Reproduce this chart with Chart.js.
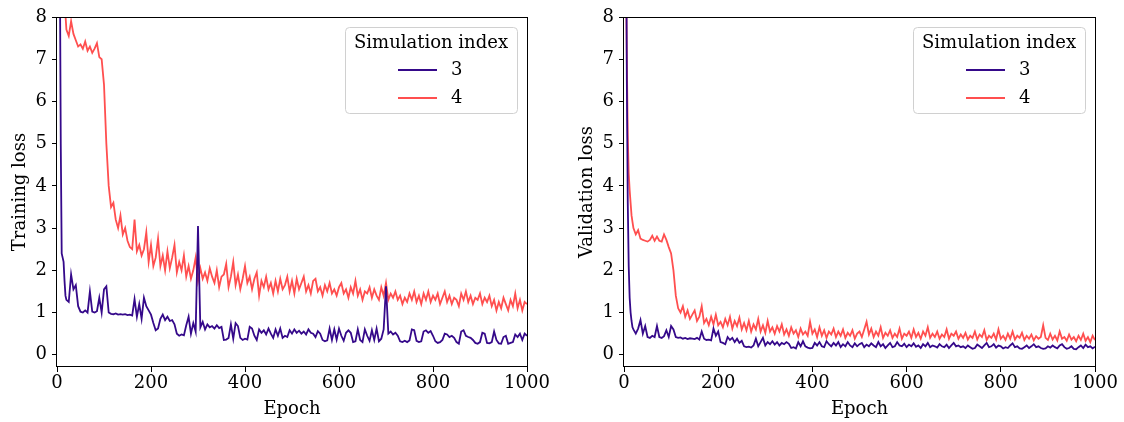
<!DOCTYPE html>
<html>
<head>
<meta charset="utf-8">
<script src="https://cdn.jsdelivr.net/npm/chart.js@4.4.1/dist/chart.umd.min.js"></script>
<style>
  html, body { margin: 0; padding: 0; background: #fff; }
  .panel { position: absolute; top: 0; width: 562px; height: 422px; }
</style>
</head>
<body>
<div class="panel" style="left:0"><canvas id="trainChart" width="562" height="422"></canvas></div>
<div class="panel" style="left:562px"><canvas id="valChart" width="562" height="422"></canvas></div>
<script>
// epoch grid: fine steps at the start, then every 5 epochs
const headEpochs = [0, 2, 4, 6, 8, 10, 12, 14, 16, 18];
const epochs = headEpochs.concat(Array.from({ length: 197 }, (_, i) => 20 + 5 * i));

const seriesLabels = ["3", "4"];
const seriesColors = ["#35098a", "#ff4f4f"];
const xTicks = [0, 200, 400, 600, 800, 1000];
const yTicks = [0, 1, 2, 3, 4, 5, 6, 7, 8];

// training loss, simulation 3
const trainLoss3 = [
  30, 18, 12, 9.5, 5.0, 2.4, 2.3, 2.2, 1.75, 1.4,
  1.3, 1.25, 1.9, 1.55, 1.65, 1.15, 1.02, 1.0, 1.05, 1.0, 1.5, 1.02, 1.0, 1.03, 1.35, 1.0, 1.55, 1.62, 1.0, 0.97,
  0.96, 0.98, 0.95, 0.96, 0.95, 0.96, 0.94, 0.95, 0.93, 1.32, 0.9, 1.2, 0.85, 1.35, 1.15, 1.05, 0.95, 0.75, 0.58, 0.62,
  0.85, 0.95, 0.82, 0.9, 0.8, 0.82, 0.72, 0.5, 0.45, 0.48, 0.46, 0.7, 0.9, 0.5, 0.75, 0.55, 3.05, 0.65, 0.78, 0.6,
  0.72, 0.65, 0.68, 0.62, 0.7, 0.63, 0.66, 0.35, 0.36, 0.4, 0.72, 0.38, 0.75, 0.68, 0.4, 0.35, 0.38, 0.36, 0.66, 0.62,
  0.45, 0.35, 0.6, 0.52, 0.58, 0.48, 0.62, 0.5, 0.4, 0.6, 0.45, 0.62, 0.4, 0.45, 0.42, 0.58, 0.5, 0.6, 0.52, 0.57,
  0.5, 0.55, 0.48, 0.6, 0.52, 0.5, 0.42, 0.56, 0.5, 0.35, 0.32, 0.34, 0.62, 0.35, 0.6, 0.36, 0.62, 0.45, 0.33, 0.52,
  0.58, 0.52, 0.3, 0.32, 0.6, 0.35, 0.3, 0.6, 0.45, 0.33, 0.58, 0.35, 0.62, 0.32, 0.38, 0.6, 1.62, 0.5, 0.55, 0.48,
  0.52, 0.45, 0.32, 0.3, 0.33, 0.3, 0.34, 0.6, 0.58, 0.33, 0.3, 0.32, 0.55, 0.58, 0.52, 0.56, 0.45, 0.32, 0.28, 0.3,
  0.35, 0.5, 0.48, 0.42, 0.45, 0.4, 0.3, 0.26, 0.55, 0.58, 0.45, 0.42, 0.4, 0.35, 0.28, 0.26, 0.3, 0.52, 0.5, 0.28,
  0.27, 0.3, 0.55, 0.35, 0.27, 0.26, 0.42, 0.45, 0.26, 0.28, 0.3, 0.48, 0.42, 0.5, 0.35, 0.5, 0.45
];

// training loss, simulation 4
const trainLoss4 = [
  14, 13, 12, 11, 10.5, 9.8, 9.2, 8.7, 8.3, 8.05,
  7.7, 7.55, 7.9, 7.6, 7.45, 7.3, 7.35, 7.25, 7.42, 7.2, 7.3, 7.15, 7.25, 7.38, 7.05, 7.0, 6.4, 5.0, 4.0, 3.5,
  3.6, 3.2, 3.0, 3.3, 2.85, 3.0, 2.7, 2.55, 2.5, 3.2, 2.45, 2.6, 2.35, 2.5, 2.9, 2.2, 2.6, 2.1, 2.3, 2.75,
  2.1, 2.35, 2.0, 2.45, 2.05, 2.3, 2.6, 1.95, 2.2, 2.0, 2.35, 1.85, 2.1, 1.8, 2.0, 2.3, 1.75, 2.05, 1.8, 1.95,
  1.75, 2.05, 1.85, 1.7, 2.0, 1.6, 1.85, 1.9, 2.15, 1.6, 1.85, 2.2, 1.65, 1.9, 1.55, 1.8, 2.1, 1.7, 1.85, 1.55,
  1.8, 1.95, 1.4, 1.75, 1.6, 1.85, 1.55, 1.7, 1.45, 1.75, 1.5, 1.8, 1.55, 1.65, 1.85, 1.5, 1.75, 1.45, 1.8, 1.55,
  1.7, 1.85, 1.5, 1.65, 1.45, 1.75, 1.8, 1.5, 1.6, 1.4, 1.65, 1.5, 1.7, 1.45, 1.55, 1.4, 1.6, 1.7, 1.45, 1.55,
  1.35, 1.6, 1.45, 1.75, 1.4, 1.55, 1.3, 1.5, 1.45, 1.6, 1.35, 1.55, 1.4, 1.3, 1.6, 1.4, 1.7, 1.3, 1.45, 1.35,
  1.5, 1.3, 1.4, 1.2, 1.35, 1.25, 1.45, 1.3, 1.5, 1.25, 1.4, 1.2, 1.45, 1.3, 1.5, 1.25, 1.4, 1.3, 1.45, 1.2,
  1.35, 1.5, 1.25, 1.4, 1.2, 1.35, 1.3, 1.15, 1.45, 1.3, 1.5, 1.25, 1.4, 1.2, 1.35, 1.3, 1.45, 1.2, 1.35, 1.25,
  1.4, 1.15, 1.3, 1.05, 1.25, 1.1, 1.35, 1.2, 1.05, 1.3, 1.15, 1.45, 1.1, 1.3, 1.05, 1.25, 1.2
];

// validation loss, simulation 3
const valLoss3 = [
  30, 20, 12, 6.5, 3.6, 2.1, 1.35, 1.0, 0.8, 0.65,
  0.6, 0.5, 0.62, 0.82, 0.5, 0.68, 0.42, 0.4, 0.45, 0.42, 0.68, 0.42, 0.4, 0.44, 0.58, 0.42, 0.68, 0.6, 0.42, 0.4,
  0.41, 0.38, 0.4, 0.37, 0.39, 0.38, 0.37, 0.4, 0.36, 0.55, 0.38, 0.35, 0.36, 0.34, 0.62, 0.45, 0.55, 0.3, 0.28, 0.25,
  0.42, 0.35, 0.4, 0.3, 0.38, 0.28, 0.33, 0.2, 0.18, 0.19, 0.17, 0.22, 0.38, 0.2, 0.3, 0.4, 0.22, 0.3, 0.25, 0.32,
  0.24, 0.3, 0.22, 0.28, 0.25, 0.3, 0.26, 0.16, 0.18, 0.15, 0.3, 0.2, 0.32, 0.2, 0.17, 0.15, 0.16, 0.28, 0.22, 0.3,
  0.2, 0.18, 0.32, 0.25, 0.2, 0.28, 0.22, 0.3, 0.18, 0.25, 0.2, 0.3, 0.22, 0.18, 0.27, 0.2, 0.25, 0.28, 0.18, 0.24,
  0.2, 0.27, 0.22, 0.18, 0.3, 0.2, 0.25, 0.16, 0.22, 0.28, 0.18, 0.2, 0.3, 0.22, 0.2, 0.26, 0.18, 0.24, 0.2, 0.27,
  0.19, 0.22, 0.16, 0.25, 0.2, 0.28, 0.18, 0.22, 0.2, 0.17, 0.25, 0.2, 0.18, 0.24, 0.16, 0.22, 0.28, 0.2, 0.22, 0.18,
  0.2, 0.16, 0.22, 0.18, 0.14, 0.16, 0.24, 0.2, 0.16, 0.22, 0.28, 0.18, 0.2, 0.25, 0.17, 0.22, 0.2, 0.15, 0.18, 0.16,
  0.22, 0.27, 0.18, 0.2, 0.15, 0.14, 0.18, 0.22, 0.16, 0.2, 0.25, 0.18, 0.2, 0.16, 0.14, 0.15, 0.2, 0.17, 0.22, 0.18,
  0.15, 0.22, 0.25, 0.18, 0.14, 0.16, 0.2, 0.14, 0.13, 0.18, 0.22, 0.16, 0.24, 0.18, 0.2, 0.15, 0.19
];

// validation loss, simulation 4
const valLoss4 = [
  40, 18, 9.5, 7.0, 5.2, 4.3, 3.9, 3.6, 3.3, 3.15,
  3.0, 2.85, 2.95, 2.75, 2.72, 2.7, 2.68, 2.72, 2.82, 2.7, 2.8, 2.7, 2.68, 2.85, 2.72, 2.55, 2.4, 2.0, 1.4, 1.1,
  1.0, 1.15, 0.9, 1.05, 0.85, 0.95, 1.05, 0.8, 0.9, 1.15, 0.75, 0.85, 0.7, 0.9, 0.72, 0.95, 0.7, 0.78, 0.65, 0.85,
  0.7, 0.9, 0.62, 0.8, 0.68, 0.88, 0.6, 0.75, 0.58, 0.8, 0.55, 0.72, 0.6, 0.85, 0.55, 0.7, 0.52, 0.8, 0.55, 0.65,
  0.5, 0.68, 0.55, 0.72, 0.48, 0.6, 0.45, 0.65, 0.5, 0.58, 0.42, 0.62, 0.48, 0.55, 0.45, 0.78, 0.5, 0.6, 0.42, 0.65,
  0.45, 0.58, 0.4, 0.55, 0.48, 0.62, 0.42, 0.55, 0.45, 0.6, 0.4, 0.52, 0.45, 0.58, 0.38, 0.5, 0.55, 0.42, 0.6, 0.78,
  0.48, 0.62, 0.42, 0.55, 0.45, 0.65, 0.4, 0.52, 0.45, 0.58, 0.4, 0.5, 0.42, 0.62, 0.38, 0.5, 0.45, 0.55, 0.4, 0.6,
  0.42, 0.52, 0.38, 0.55, 0.45, 0.65, 0.4, 0.5, 0.42, 0.55, 0.38, 0.48, 0.42, 0.6, 0.38, 0.5, 0.45, 0.55, 0.38, 0.48,
  0.4, 0.52, 0.36, 0.45, 0.4, 0.55, 0.36, 0.48, 0.42, 0.58, 0.35, 0.45, 0.4, 0.5, 0.36, 0.6, 0.38, 0.45, 0.35, 0.5,
  0.38, 0.55, 0.36, 0.45, 0.4, 0.52, 0.35, 0.45, 0.38, 0.48, 0.34, 0.44, 0.38, 0.42, 0.7, 0.4, 0.35, 0.5, 0.36, 0.45,
  0.34, 0.55, 0.38, 0.42, 0.33, 0.48, 0.36, 0.42, 0.32, 0.45, 0.35, 0.5, 0.33, 0.42, 0.3, 0.45, 0.35
];

const FONT = "'DejaVu Serif', serif";
const FONT_SIZE = 18;

// axes box (all four spines) drawn over the lines, like matplotlib
const spinesPlugin = {
  id: "spines",
  afterDatasetsDraw(chart) {
    const { ctx, chartArea: a } = chart;
    ctx.save();
    ctx.strokeStyle = "#000";
    ctx.lineWidth = 1;
    ctx.strokeRect(Math.round(a.left) - 0.5, Math.round(a.top) + 0.5,
      Math.round(a.right - a.left) + 1, Math.round(a.bottom - a.top) - 1);
    ctx.restore();
  }
};

// matplotlib style legend box in the upper right corner
const boxLegendPlugin = {
  id: "boxLegend",
  afterDraw(chart) {
    const { ctx, chartArea: a } = chart;
    const w = 172, h = 86;
    const x = a.right - 10 - w, y = a.top + 10;
    ctx.save();
    ctx.beginPath();
    ctx.roundRect(x + 0.5, y + 0.5, w, h, 4);
    ctx.fillStyle = "rgba(255,255,255,0.8)";
    ctx.fill();
    ctx.strokeStyle = "#d0d0d0";
    ctx.lineWidth = 1;
    ctx.stroke();

    ctx.fillStyle = "#000";
    ctx.font = FONT_SIZE + "px " + FONT;
    ctx.textBaseline = "middle";
    ctx.textAlign = "center";
    ctx.fillText("Simulation index", x + w / 2, y + 16);

    ctx.textAlign = "left";
    chart.data.datasets.forEach((ds, i) => {
      const ly = y + 43 + i * 28;
      ctx.beginPath();
      ctx.moveTo(x + 53, ly);
      ctx.lineTo(x + 92, ly);
      ctx.strokeStyle = ds.borderColor;
      ctx.lineWidth = 2;
      ctx.stroke();
      ctx.fillText(ds.label, x + 106, ly);
    });
    ctx.restore();
  }
};

function makeChart(id, yTitle, s3, s4, yAxisWidth, rightPad, yTitlePad) {
  const ctx = document.getElementById(id).getContext("2d");
  const tickFont = { family: FONT, size: FONT_SIZE };
  return new Chart(ctx, {
    type: "line",
    data: {
      datasets: [s3, s4].map((vals, i) => ({
        label: seriesLabels[i],
        data: epochs.map((e, j) => ({ x: e, y: vals[j] })),
        borderColor: seriesColors[i],
        borderWidth: 1.8,
        pointRadius: 0,
        tension: 0,
        fill: false
      }))
    },
    options: {
      responsive: false,
      animation: false,
      layout: { padding: { top: 17, right: rightPad, bottom: 0, left: 0 } },
      plugins: { legend: { display: false }, tooltip: { enabled: false } },
      scales: {
        x: {
          type: "linear",
          min: 0,
          max: 1000,
          afterBuildTicks: axis => { axis.ticks = xTicks.map(v => ({ value: v })); },
          afterFit: scale => { scale.height = 55; },
          ticks: { color: "#000", font: tickFont, padding: 1, maxRotation: 0, callback: v => String(v) },
          grid: { drawOnChartArea: false, drawTicks: true, tickLength: 5, tickColor: "#000" },
          border: { display: false },
          title: { display: true, text: "Epoch", color: "#000", font: tickFont, padding: { top: 0, bottom: 2 } }
        },
        y: {
          type: "linear",
          min: -0.29,
          max: 8,
          afterBuildTicks: axis => { axis.ticks = yTicks.map(v => ({ value: v })); },
          afterFit: scale => { scale.width = yAxisWidth; },
          ticks: { color: "#000", font: tickFont, padding: 5, callback: v => String(v) },
          grid: { drawOnChartArea: false, drawTicks: true, tickLength: 5, tickColor: "#000" },
          border: { display: false },
          title: { display: true, text: yTitle, color: "#000", font: tickFont, padding: { top: yTitlePad, bottom: 0 } }
        }
      }
    },
    plugins: [spinesPlugin, boxLegendPlugin]
  });
}

makeChart("trainChart", "Training loss", trainLoss3, trainLoss4, 57, 35, 10);
makeChart("valChart", "Validation loss", valLoss3, valLoss4, 62, 29, 15);
</script>
</body>
</html>
